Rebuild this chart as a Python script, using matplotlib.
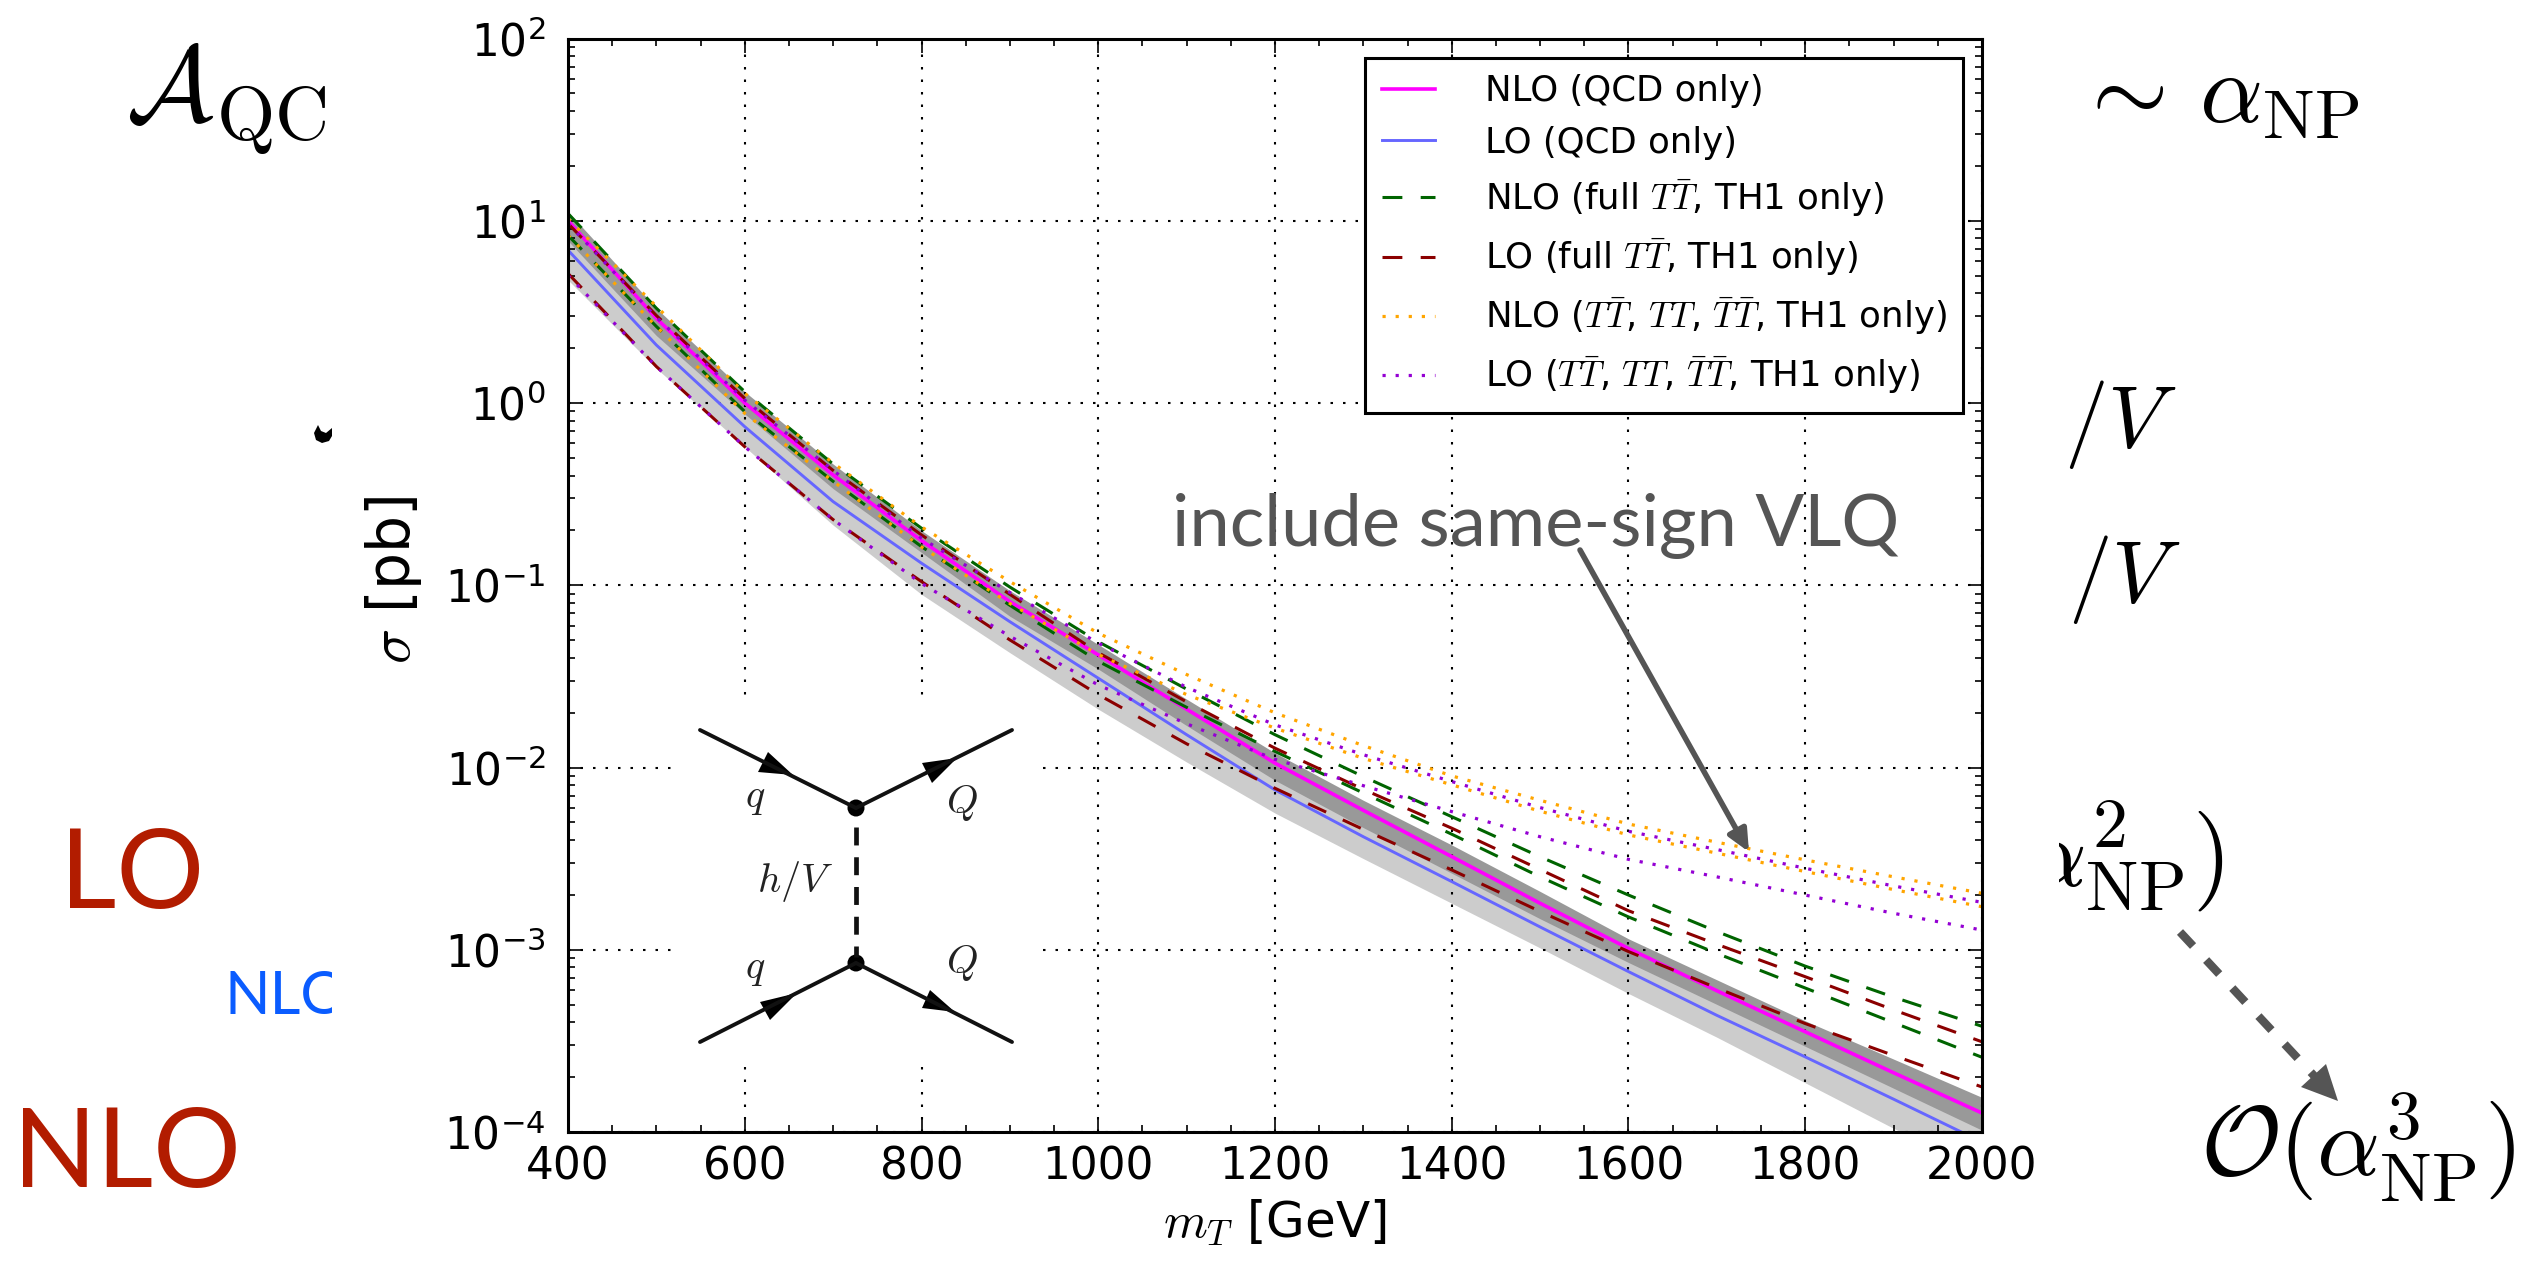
import matplotlib
matplotlib.use("Agg")
import matplotlib.pyplot as plt
import numpy as np
from matplotlib.patches import Circle, Polygon, Rectangle
from matplotlib.ticker import LogLocator, MultipleLocator, NullFormatter

W, H = 2541, 1262

# log10(sigma / pb)
m_t = [400, 500, 600, 700, 800, 900, 1000, 1100, 1200, 1300, 1400, 1500, 1600, 1700, 1800, 1900, 2000]
nlo_qcd = [1.00, 0.464, 0.00, -0.395, -0.755, -1.09, -1.382, -1.68, -1.976, -2.235, -2.489, -2.745, -2.993, -3.225, -3.45, -3.675, -3.896]
lo_qcd = [0.839, 0.318, -0.13, -0.541, -0.879, -1.20, -1.51, -1.82, -2.123, -2.38, -2.626, -2.875, -3.12, -3.36, -3.588, -3.82, -4.055]
lo_band_hi = [0.98, 0.46, 0.0, -0.40, -0.72, -1.03, -1.34, -1.64, -1.95, -2.21, -2.47, -2.71, -2.96, -3.2, -3.43, -3.66, -3.89]
lo_band_lo = [0.675, 0.19, -0.24, -0.67, -1.05, -1.37, -1.68, -1.97, -2.25, -2.5, -2.745, -2.99, -3.24, -3.48, -3.73, -3.98, -4.21]
nlo_band_hi = [1.05, 0.52, 0.062, -0.335, -0.70, -1.03, -1.325, -1.625, -1.92, -2.18, -2.425, -2.68, -2.94, -3.165, -3.39, -3.60, -3.81]
nlo_band_lo = [0.89, 0.37, -0.06, -0.47, -0.82, -1.17, -1.46, -1.77, -2.07, -2.33, -2.58, -2.83, -3.07, -3.30, -3.53, -3.76, -3.99]
nlo_tt_hi = [1.04, 0.52, 0.062, -0.335, -0.687, -1.01, -1.31, -1.57, -1.82, -2.05, -2.27, -2.49, -2.70, -2.90, -3.09, -3.26, -3.42]
nlo_tt_lo = [0.92, 0.42, -0.047, -0.43, -0.788, -1.11, -1.417, -1.67, -1.912, -2.14, -2.366, -2.60, -2.82, -3.02, -3.21, -3.40, -3.59]
lo_tt_hi = [0.985, 0.48, 0.025, -0.37, -0.724, -1.05, -1.37, -1.64, -1.894, -2.12, -2.333, -2.56, -2.786, -2.97, -3.148, -3.33, -3.505]
lo_tt_lo = [0.711, 0.20, -0.24, -0.64, -0.98, -1.30, -1.60, -1.87, -2.114, -2.34, -2.562, -2.79, -3.01, -3.21, -3.405, -3.58, -3.753]
nlo_all_hi = [1.01, 0.53, 0.053, -0.33, -0.68, -0.98, -1.263, -1.49, -1.70, -1.88, -2.046, -2.18, -2.31, -2.41, -2.507, -2.60, -2.69]
nlo_all_lo = [0.92, 0.42, -0.057, -0.43, -0.79, -1.10, -1.38, -1.60, -1.784, -1.95, -2.095, -2.24, -2.37, -2.47, -2.571, -2.67, -2.764]
lo_all_hi = [0.985, 0.47, 0.016, -0.37, -0.742, -1.04, -1.317, -1.56, -1.766, -1.93, -2.077, -2.22, -2.35, -2.45, -2.553, -2.65, -2.74]
lo_all_lo = [0.70, 0.20, -0.24, -0.64, -0.99, -1.28, -1.547, -1.76, -1.955, -2.10, -2.242, -2.38, -2.504, -2.60, -2.70, -2.80, -2.892]


def sig(vals):
    return 10 ** np.array(vals)


plt.rcParams["mathtext.fontset"] = "cm"
plt.rcParams["font.family"] = "DejaVu Sans"

fig = plt.figure(figsize=(W / 100, H / 100), dpi=100)
L, R, T, B = 568, 1982, 38.5, 1132
ax = fig.add_axes([L / W, 1 - B / H, (R - L) / W, (B - T) / H])

ax.fill_between(m_t, sig(lo_band_lo), sig(lo_band_hi), color="#cccccc", lw=0)
ax.fill_between(m_t, sig(nlo_band_lo), sig(nlo_band_hi), color="#999999", lw=0)

dash = (0, (6.5, 6))
dots = (0, (1, 3.1))
ax.plot(m_t, sig(nlo_qcd), color="#ff00ff", lw=2.6, label="NLO (QCD only)")
ax.plot(m_t, sig(lo_qcd), color="#6666ff", lw=2.1, label="LO (QCD only)")
ax.plot(m_t, sig(nlo_tt_hi), color="#006400", lw=2.2, ls=dash, label=r"NLO (full $T\bar{T}$, TH1 only)")
ax.plot(m_t, sig(nlo_tt_lo), color="#006400", lw=2.2, ls=dash)
ax.plot(m_t, sig(lo_tt_hi), color="#8b0000", lw=2.2, ls=dash, label=r"LO (full $T\bar{T}$, TH1 only)")
ax.plot(m_t, sig(lo_tt_lo), color="#8b0000", lw=2.2, ls=dash)
ax.plot(m_t, sig(nlo_all_hi), color="#ffa500", lw=2.3, ls=dots, label=r"NLO ($T\bar{T}$, $TT$, $\bar{T}\bar{T}$, TH1 only)")
ax.plot(m_t, sig(nlo_all_lo), color="#ffa500", lw=2.3, ls=dots)
ax.plot(m_t, sig(lo_all_hi), color="#9400d3", lw=2.3, ls=dots, label=r"LO ($T\bar{T}$, $TT$, $\bar{T}\bar{T}$, TH1 only)")
ax.plot(m_t, sig(lo_all_lo), color="#9400d3", lw=2.3, ls=dots)

ax.set_yscale("log")
ax.set_xlim(400, 2000)
ax.set_ylim(1e-4, 1e2)
ax.xaxis.set_major_locator(MultipleLocator(200))
ax.xaxis.set_minor_locator(MultipleLocator(50))
ax.yaxis.set_major_locator(LogLocator(base=10, numticks=10))
ax.yaxis.set_minor_locator(LogLocator(base=10, subs=np.arange(2, 10), numticks=10))
ax.yaxis.set_minor_formatter(NullFormatter())
ax.grid(True, which="major", color="black", lw=1.5, ls=(0, (1.2, 4.8)))
ax.tick_params(which="both", direction="in", top=True, right=True)
ax.tick_params(which="major", length=10, width=1.2, labelsize=31.5)
ax.tick_params(axis="x", which="major", pad=10)
ax.tick_params(axis="y", which="major", pad=16)
ax.tick_params(which="minor", length=5, width=1.2)
for s in ax.spines.values():
    s.set_linewidth(2.2)

ax.set_xlabel(r"$m_T$ [GeV]", fontsize=36, labelpad=6)
ax.set_ylabel(r"$\sigma$ [pb]", fontsize=42)
ax.yaxis.set_label_coords((424 - L) / (R - L), 0.505)

leg = ax.legend(loc="upper right", bbox_to_anchor=(1963 / W, 1 - 58 / H), bbox_transform=fig.transFigure,
                fontsize=25.6, frameon=True, fancybox=False, framealpha=1, edgecolor="black",
                borderaxespad=0, borderpad=0.46, labelspacing=0.49, handlelength=1.5, handletextpad=1.4)
leg.get_frame().set_linewidth(2.2)

# everything pasted on top of the plot, in picture pixels
ov = fig.add_axes([0, 0, 1, 1], zorder=5)
ov.set_xlim(0, W)
ov.set_ylim(H, 0)
ov.axis("off")

GREY = "#555555"
RED = "#b21c00"
ov.text(126, 122, r"$\mathcal{A}_{\mathrm{QC}}$", fontsize=77, va="baseline")
ov.add_patch(Polygon([(318, 425), (314, 433), (316, 440), (322, 443), (329, 441), (332, 436), (332, 428),
                      (326, 433), (321, 431)], color="black", lw=0))
ov.text(60, 908, "LO", fontsize=79, color=RED, family="Lato", va="baseline")
ov.text(13, 1187, "NLO", fontsize=79, color=RED, family="Lato", va="baseline")
blue = ov.text(225, 1014, "NLO", fontsize=43, color="#0a5cff", family="Lato", va="baseline")
blue.set_clip_path(Rectangle((200, 950), 132, 90, transform=ov.transData))
blue.set_clip_on(True)

ov.text(2074, 122, r"$\sim\,\alpha_{\mathrm{NP}}$", fontsize=71, va="baseline")
ov.text(2064, 447, r"$/V$", fontsize=63, va="baseline")
ov.text(2068, 602, r"$/V$", fontsize=63, va="baseline")
frag = ov.text(2022, 886, r"$\alpha_{\mathrm{NP}}^{2})$", fontsize=72, va="baseline")
frag.set_clip_path(Rectangle((2059, 760), 300, 200, transform=ov.transData))
frag.set_clip_on(True)
ov.text(2200, 1177, r"$\mathcal{O}(\alpha_{\mathrm{NP}}^{3})$", fontsize=71, va="baseline")

ov.text(1172, 546, "include same-sign VLQ", fontsize=52, color=GREY, family="Lato", va="baseline")
ov.annotate("", xy=(1749, 852), xytext=(1580, 550),
            arrowprops=dict(arrowstyle="-|>,head_length=1.3,head_width=0.6", color=GREY, lw=4,
                            shrinkA=0, shrinkB=0))
ov.plot([2180, 2318], [932, 1080], color=GREY, lw=6, ls=(0, (2.3, 2.3)))
ov.add_patch(Polygon([(2338, 1101), (2301, 1087), (2326, 1064)], color=GREY, lw=0))

# inset diagram
ov.add_patch(Rectangle((673, 703), 362, 357, color="white", lw=0))
for x0, y0, x1, y1 in [(700, 730, 856, 808), (856, 808, 1012, 730), (700, 1042, 856, 963), (856, 963, 1012, 1042)]:
    ov.plot([x0, x1], [y0, y1], color="#111111", lw=2.8, solid_capstyle="round")
ov.plot([856, 856], [827, 957], color="#111111", lw=3.4, ls=(0, (3.8, 2.5)))
for vy in [808, 963]:
    ov.add_patch(Circle((856, vy), 8.5, color="black", lw=0))
for tri in [[(793, 775), (768, 752), (758, 772)], [(957, 758), (922, 763), (932, 783)],
            [(797, 993), (760, 1002), (770, 1020)], [(955, 1012), (930, 990), (922, 1008)]]:
    ov.add_patch(Polygon(tri, color="black", lw=0))
for tx, ty, s in [(755, 797, "$q$"), (962, 803, "$Q$"), (795, 882, "$h/V$"), (755, 968, "$q$"), (962, 963, "$Q$")]:
    ov.text(tx, ty, s, fontsize=29, color="#222222", ha="center", va="center")

fig.savefig("out.png", dpi=100)
